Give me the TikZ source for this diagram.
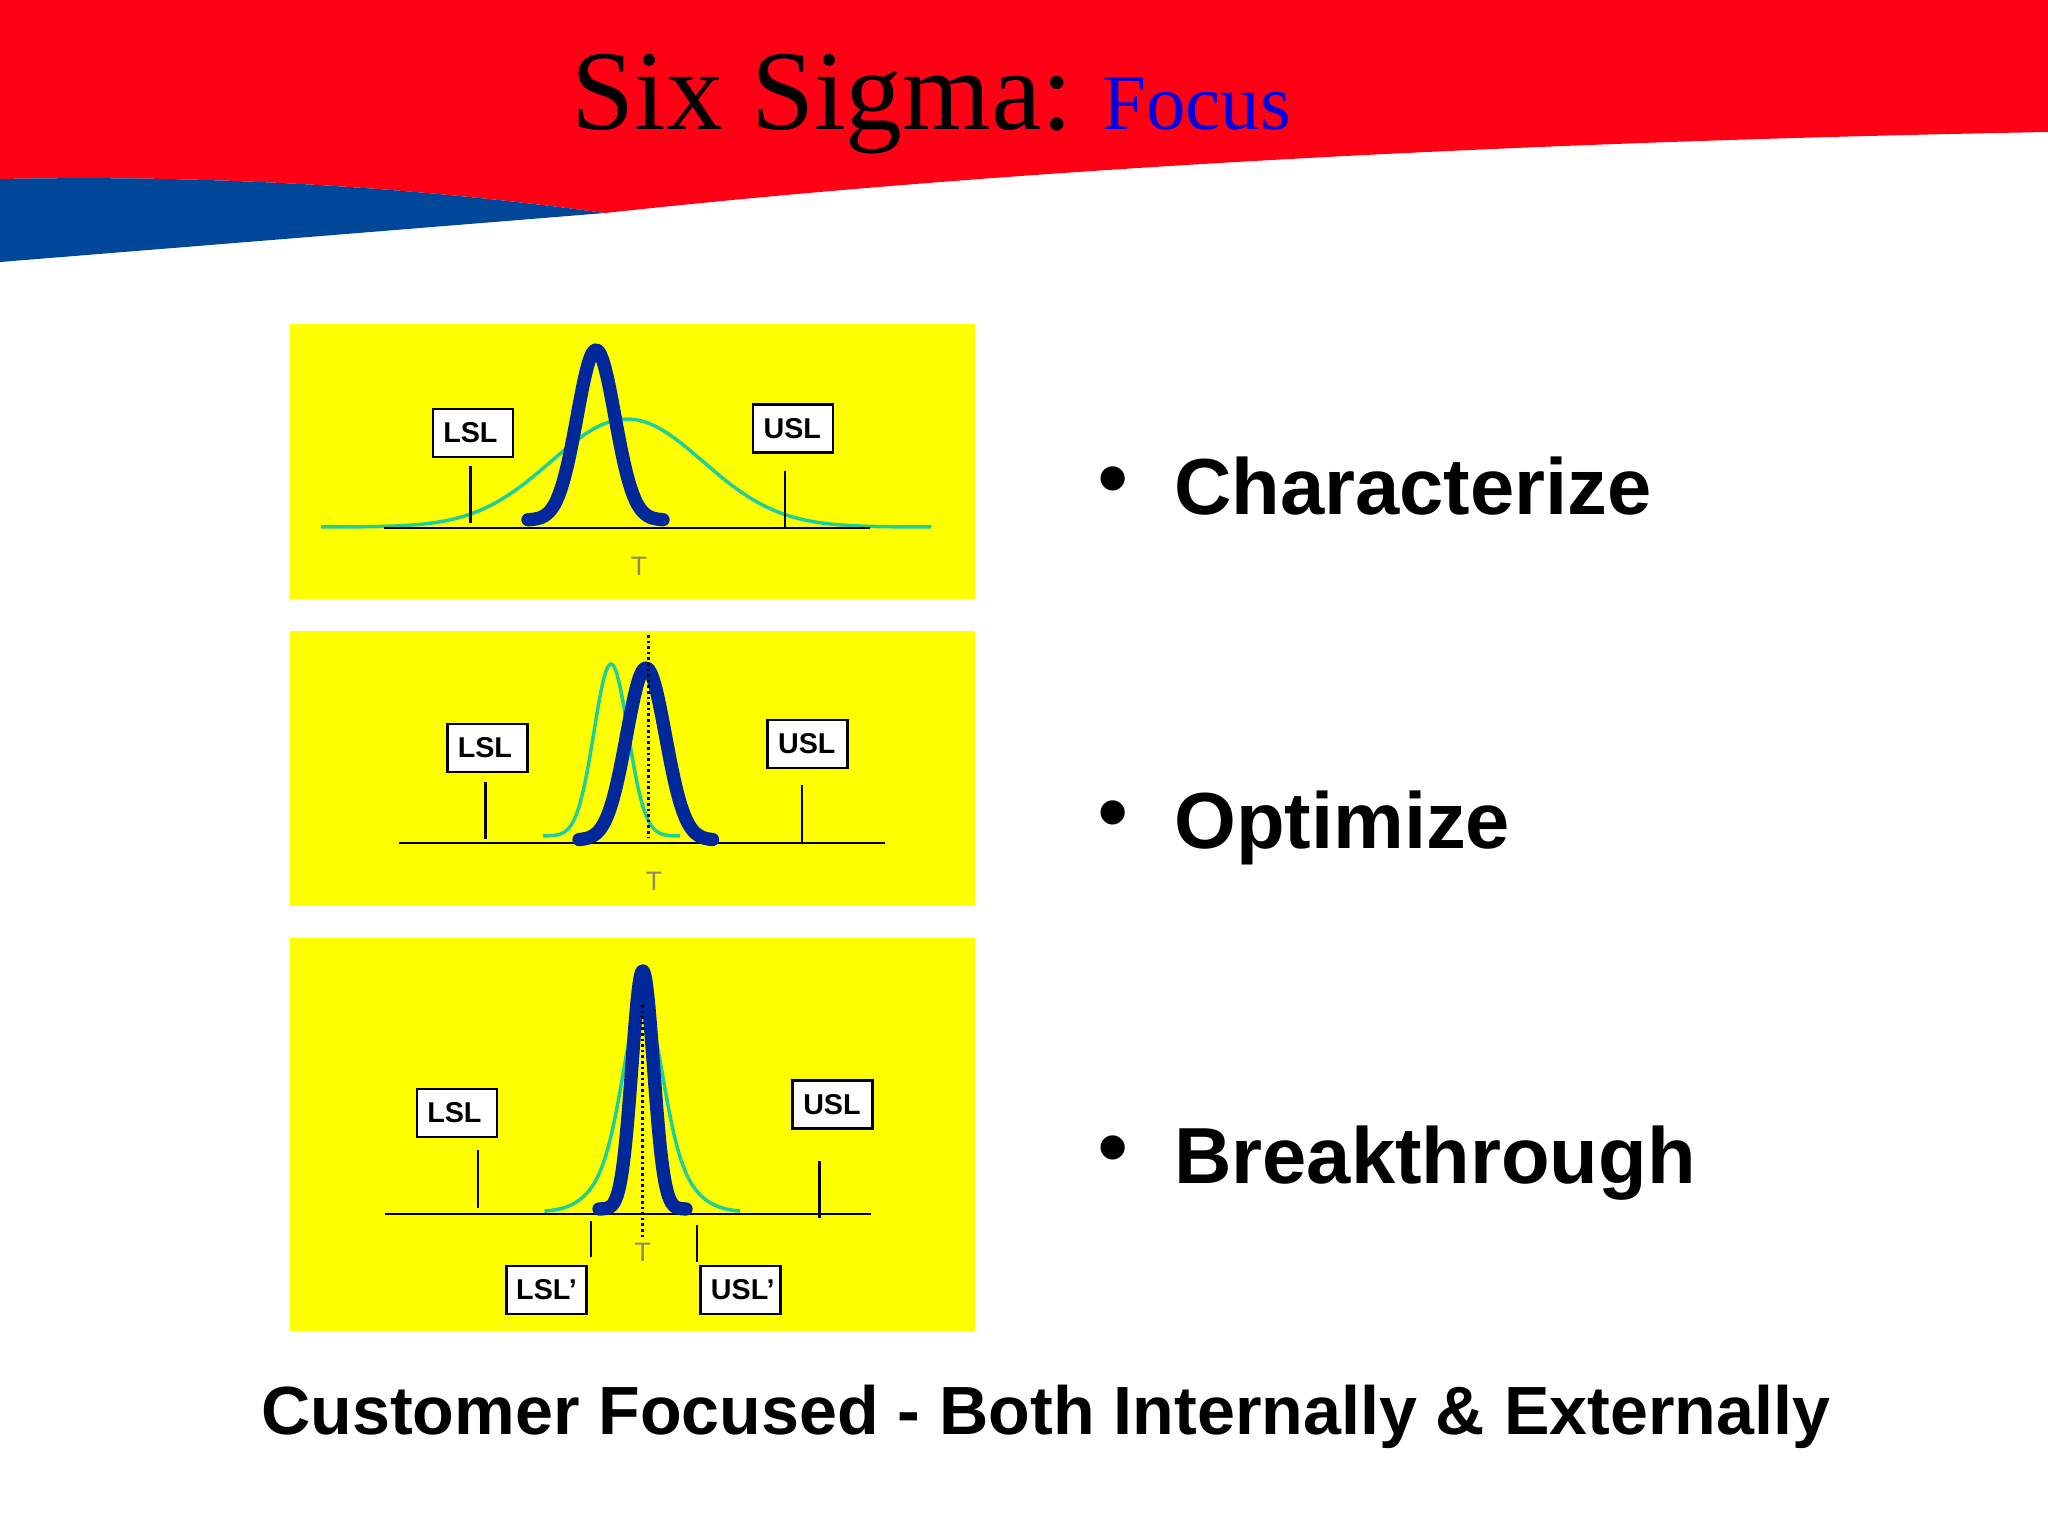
\documentclass[tikz,border=0pt]{standalone}
\usepackage{fontspec}
\setmainfont{Liberation Serif}
\newfontfamily\arialf{Liberation Sans}
\definecolor{hdrred}{HTML}{FF0015}
\definecolor{hdrblue}{HTML}{004799}
\definecolor{panelyellow}{HTML}{FFFF00}
\definecolor{curveblue}{HTML}{00289B}
\definecolor{curvegreen}{HTML}{1ECF9A}
\definecolor{focusblue}{HTML}{0000E0}
\definecolor{tgray}{HTML}{8C8C6A}
\newcommand{\szA}{\fontsize{21.5pt}{25pt}\selectfont}
\tikzset{
  x=0.75pt,y=-0.75pt,
  panel/.style={fill=panelyellow,draw=none},
  limitbox/.style={draw=black,fill=white,line width=2pt,minimum width=60pt,minimum height=36pt,inner sep=0pt,font=\arialf\bfseries\szA},
  tickline/.style={draw=black,line width=2.1pt},
  axisline/.style={draw=black,line width=2.2pt},
  narrowcurve/.style={draw=curveblue,line width=10pt,line cap=round,line join=round},
  widecurve/.style={draw=curvegreen,line width=2.6pt},
  dotline/.style={draw=black,line width=2.1pt,dash pattern=on 2pt off 2.2pt},
  tlabel/.style={text=tgray,font=\arialf\fontsize{20pt}{24pt}\selectfont,inner sep=0pt},
  bulletitem/.style={anchor=base west,inner sep=0pt,font=\arialf\bfseries\fontsize{59.65pt}{70pt}\selectfont},
  bulletmark/.style={anchor=base,inner sep=0pt,font=\arialf\fontsize{67pt}{78pt}\selectfont},
}
\begin{document}
\begin{tikzpicture}
\useasboundingbox (0,0) rectangle (2048,1536);
\fill[white] (0,0) rectangle (2048,1536);
% header
\fill[hdrred] (0,0) -- (2048,0) -- (2048,132) .. controls (1500,142) and (1000,170) .. (605,213) .. controls (400,185) and (200,175) .. (0,179) -- cycle;
\fill[hdrblue] (0,179) .. controls (200,175) and (400,185) .. (605,213) -- (0,262) -- cycle;
\node[anchor=base west,inner sep=0pt,font=\fontsize{85.2pt}{95pt}\selectfont] (title) at (571,129) {Six Sigma:};
\node[anchor=base west,inner sep=0pt,text=focusblue,font=\fontsize{59.2pt}{70pt}\selectfont] (focus) at (1102,129) {Focus};
% panel 1
\fill[panel] (290,324) rectangle (975,599);
\draw[widecurve] plot[domain=321:931,samples=120] (\x,{527-108*exp(-((\x-627)/76)^2/2)});
\coordinate (a1) at (384,528); \coordinate (a2) at (870,528);
\draw[axisline] (a1) -- (a2);
\draw[narrowcurve] plot[domain=528:663,samples=90] (\x,{520-170*exp(-((\x-596)/19)^2/2)});
\node[limitbox] (lsl1) at (473,433) {LSL\kern4pt};
\node[limitbox] (usl1) at (793,428.5) {USL\kern1pt};
\coordinate (t1a) at (470.5,466); \coordinate (t1b) at (470.5,523);
\coordinate (t2a) at (785,471); \coordinate (t2b) at (785,527);
\draw[tickline] (t1a) -- (t1b);
\draw[tickline] (t2a) -- (t2b);
\node[tlabel] (t1) at (639,566) {T};
% panel 2
\fill[panel] (290,631) rectangle (975,906);
\draw[widecurve] plot[domain=543:680,samples=90] (\x,{836-172*exp(-((\x-611)/17)^2/2)});
\coordinate (b1) at (398.5,843); \coordinate (b2) at (885,843);
\draw[axisline] (b1) -- (b2);
\draw[narrowcurve] plot[domain=579:712.5,samples=90] (\x,{840-172*exp(-((\x-646)/19.5)^2/2)});
\coordinate (d1) at (648.7,635); \coordinate (d2) at (648.7,837);
\draw[dotline] (d1) -- (d2);
\node[limitbox] (lsl2) at (487.5,748) {LSL\kern4pt};
\node[limitbox] (usl2) at (807.5,744) {USL\kern1pt};
\coordinate (t3a) at (485.7,782); \coordinate (t3b) at (485.7,839);
\coordinate (t4a) at (802,785); \coordinate (t4b) at (802,843);
\draw[tickline] (t3a) -- (t3b);
\draw[tickline] (t4a) -- (t4b);
\node[tlabel] (t2) at (654,881) {T};
% panel 3
\fill[panel] (290,938) rectangle (975,1331);
\draw[widecurve] plot[domain=544.5:740,samples=120] (\x,{1212-212*(0.65*exp(-((\x-642.7)/18)^2/2)+0.35*exp(-((\x-642.7)/33)^2/2))});
\coordinate (c1) at (384.7,1214); \coordinate (c2) at (871.4,1214);
\draw[axisline] (c1) -- (c2);
\draw[narrowcurve] plot[domain=599:686,samples=90] (\x,{1209-238*exp(-((\x-642.7)/10.7)^2/2)});
\coordinate (e1) at (642.7,1005); \coordinate (e2) at (642.7,1238);
\draw[dotline] (e1) -- (e2);
\node[limitbox] (lsl3) at (457,1113) {LSL\kern4pt};
\node[limitbox] (usl3) at (832.6,1104.5) {USL\kern1pt};
\node[limitbox] (lslp) at (546.5,1290) {LSL’};
\node[limitbox] (uslp) at (740.8,1290) {\kern3pt USL’};
\coordinate (t5a) at (478,1150); \coordinate (t5b) at (478,1208);
\coordinate (t6a) at (819.5,1161); \coordinate (t6b) at (819.5,1218);
\coordinate (t7a) at (591,1221); \coordinate (t7b) at (591,1257);
\coordinate (t8a) at (697,1225); \coordinate (t8b) at (697,1262);
\draw[tickline] (t5a) -- (t5b);
\draw[tickline] (t6a) -- (t6b);
\draw[tickline] (t7a) -- (t7b);
\draw[tickline] (t8a) -- (t8b);
\node[tlabel] (t3) at (642.7,1252) {T};
% bullets
\node[bulletmark] (m1) at (1113,508.5) {•};
\node[bulletmark] (m2) at (1113,842.5) {•};
\node[bulletmark] (m3) at (1113,1177.5) {•};
\node[bulletitem] (i1) at (1174,514) {Characterize};
\node[bulletitem] (i2) at (1174,848) {Optimize};
\node[bulletitem] (i3) at (1174,1183) {Breakthrough};
\node[anchor=base west,inner sep=0pt,font=\arialf\bfseries\fontsize{51.15pt}{60pt}\selectfont] (foot) at (261,1434) {Customer Focused - Both Internally \& Externally};
\end{tikzpicture}
\end{document}
